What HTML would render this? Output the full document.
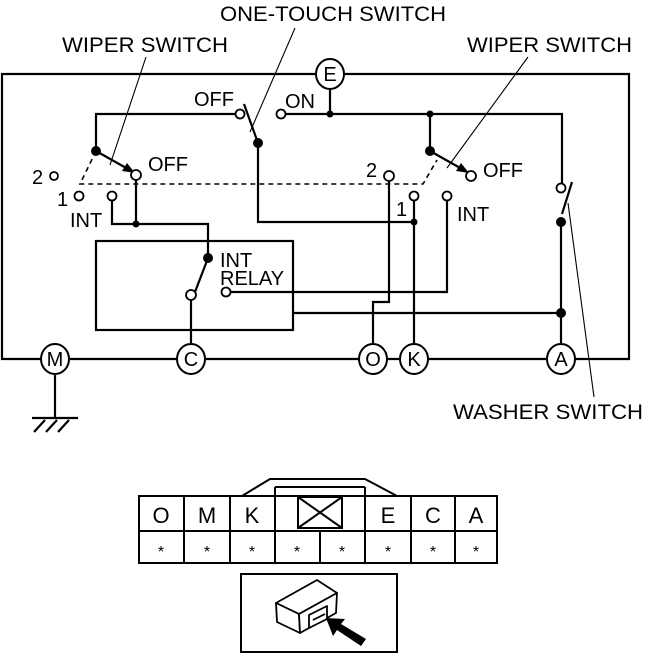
<!DOCTYPE html>
<html><head><meta charset="utf-8"><style>
html,body{margin:0;padding:0;background:#fff;}
svg{display:block;}
text{font-family:"Liberation Sans",sans-serif;fill:#000;}
</style></head><body>
<svg width="645" height="655" viewBox="0 0 645 655" xmlns="http://www.w3.org/2000/svg">
<g fill="none" stroke="#000" stroke-width="2.2">
<polyline points="315,74 2,74 2,359 629,359 629,74 345,74"/>
<line x1="330" y1="90" x2="330" y2="114"/>
<polyline points="285,114 562,114 562,184"/>
<polyline points="236,114 96,114 96,151"/>
<line x1="430" y1="114" x2="430" y2="151"/>
<line x1="244" y1="104" x2="258" y2="143"/>
<polyline points="258,143 258,222 414,222"/>
<line x1="96" y1="151" x2="128" y2="169"/>
<line x1="430" y1="151" x2="462" y2="169"/>
<polyline points="112,200 112,224 208,224 208,258"/>
<line x1="136" y1="179" x2="136" y2="224"/>
<rect x="96" y="241" width="197" height="89"/>
<line x1="208" y1="258" x2="195" y2="292"/>
<line x1="191" y1="299" x2="191" y2="344"/>
<polyline points="230,292 447,292 447,200"/>
<polyline points="293,313 561,313"/>
<polyline points="389,180 389,302 373,302 373,343"/>
<line x1="414" y1="200" x2="414" y2="343"/>
<line x1="572" y1="182" x2="562" y2="214"/>
<line x1="561" y1="222" x2="561" y2="343"/>
<line x1="55" y1="375" x2="55" y2="418"/>
<line x1="32" y1="418" x2="78" y2="418"/>
<line x1="34" y1="432" x2="45" y2="420"/>
<line x1="46" y1="432" x2="57" y2="420"/>
<line x1="58" y1="432" x2="69" y2="420"/>
</g>
<g fill="none" stroke="#000" stroke-width="1.6" stroke-dasharray="5,4">
<polyline points="96,151 80,184 423,184 437,160"/>
</g>
<g stroke="#000" stroke-width="1.1" fill="none">
<line x1="146" y1="57" x2="110" y2="165"/>
<line x1="295" y1="28" x2="250" y2="132"/>
<line x1="528" y1="57" x2="447" y2="168"/>
<line x1="568" y1="203" x2="594" y2="397"/>
</g>
<polygon points="135,173 122,171 127,163" fill="#000"/>
<polygon points="469,173 456,171 461,163" fill="#000"/>
<g fill="#000">
<circle cx="96" cy="151" r="5"/><circle cx="430" cy="151" r="5"/>
<circle cx="258" cy="143" r="5"/><circle cx="208" cy="258" r="5"/>
<circle cx="136" cy="224" r="3.5"/><circle cx="330" cy="114" r="3.5"/>
<circle cx="430" cy="114" r="3.5"/><circle cx="414" cy="222" r="3.5"/>
<circle cx="561" cy="222" r="5"/><circle cx="561" cy="313" r="5"/>
</g>
<g fill="#fff" stroke="#000" stroke-width="1.8">
<circle cx="240" cy="114" r="4.5"/><circle cx="281" cy="114" r="4.5"/>
<circle cx="136" cy="175" r="5"/><circle cx="54" cy="176" r="4"/>
<circle cx="79" cy="196" r="4.5"/><circle cx="112" cy="196" r="4.5"/>
<circle cx="191" cy="295" r="5"/><circle cx="226" cy="292" r="4.5"/>
<circle cx="389" cy="176" r="5"/><circle cx="414" cy="196" r="4.5"/>
<circle cx="447" cy="196" r="4.5"/><circle cx="471" cy="176" r="5"/>
<circle cx="561" cy="188" r="4.5"/>
</g>
<g fill="#fff" stroke="#000" stroke-width="2">
<ellipse cx="330" cy="74" rx="14" ry="15"/>
<ellipse cx="55" cy="359" rx="14" ry="15"/>
<ellipse cx="191" cy="359" rx="14" ry="15"/>
<ellipse cx="373" cy="359" rx="14" ry="15"/>
<ellipse cx="414" cy="359" rx="14" ry="15"/>
<ellipse cx="561" cy="359" rx="14" ry="15"/>
</g>
<g font-size="20" text-anchor="middle">
<text x="330" y="81">E</text><text x="55" y="366">M</text><text x="191" y="366">C</text>
<text x="373" y="366">O</text><text x="414" y="366">K</text><text x="561" y="366">A</text>
</g>
<g font-size="20">
<text x="194" y="106">OFF</text><text x="285" y="108">ON</text>
<text x="148" y="171">OFF</text><text x="483" y="177">OFF</text>
<text x="32" y="184">2</text><text x="57" y="206">1</text>
<text x="70" y="227">INT</text><text x="457" y="221">INT</text>
<text x="366" y="177">2</text><text x="396" y="216">1</text>
<text x="220" y="267">INT</text><text x="220" y="285">RELAY</text>
</g>
<g font-size="21">
<text x="220" y="21" textLength="226" lengthAdjust="spacingAndGlyphs">ONE-TOUCH SWITCH</text>
<text x="62" y="52" textLength="166" lengthAdjust="spacingAndGlyphs">WIPER SWITCH</text>
<text x="467" y="52" textLength="165" lengthAdjust="spacingAndGlyphs">WIPER SWITCH</text>
<text x="453" y="419" textLength="190" lengthAdjust="spacingAndGlyphs">WASHER SWITCH</text>
</g>
<g fill="none" stroke="#000" stroke-width="2">
<rect x="139" y="496" width="358" height="67"/>
<line x1="139" y1="531" x2="497" y2="531"/>
<line x1="184" y1="496" x2="184" y2="563"/>
<line x1="230" y1="496" x2="230" y2="563"/>
<line x1="275" y1="487" x2="275" y2="563"/>
<line x1="320" y1="531" x2="320" y2="563"/>
<line x1="365" y1="487" x2="365" y2="563"/>
<line x1="411" y1="496" x2="411" y2="563"/>
<line x1="455" y1="496" x2="455" y2="563"/>
<line x1="275" y1="487" x2="365" y2="487"/>
<polyline points="242,496 270,479 365,479 397,496"/>
<rect x="298" y="497" width="44" height="31"/>
<line x1="298" y1="497" x2="342" y2="528"/>
<line x1="342" y1="497" x2="298" y2="528"/>
<rect x="241" y="574" width="156" height="78"/>
</g>
<g font-size="22" text-anchor="middle">
<text x="161" y="523">O</text><text x="207" y="523">M</text><text x="252" y="523">K</text>
<text x="388" y="523">E</text><text x="433" y="523">C</text><text x="476" y="523">A</text>
</g>
<g font-size="16" text-anchor="middle">
<text x="161" y="557">*</text><text x="207" y="557">*</text><text x="252" y="557">*</text>
<text x="297" y="557">*</text><text x="342" y="557">*</text><text x="388" y="557">*</text>
<text x="433" y="557">*</text><text x="476" y="557">*</text>
</g>
<g fill="#fff" stroke="#000" stroke-width="1.8" stroke-linejoin="round">
<polygon points="276,603 317,580 337,593 299,614"/>
<polygon points="276,603 299,614 300,633 277,622"/>
<polygon points="299,614 337,593 336,613 300,633"/>
<polygon points="309,615 327,606 327,619 309,628"/>
<line x1="313" y1="620" x2="325" y2="614"/>
</g>
<polygon points="366,639 361,646 337,630 333,636 326,618 345,619 341,624" fill="#000"/>
</svg>
</body></html>
